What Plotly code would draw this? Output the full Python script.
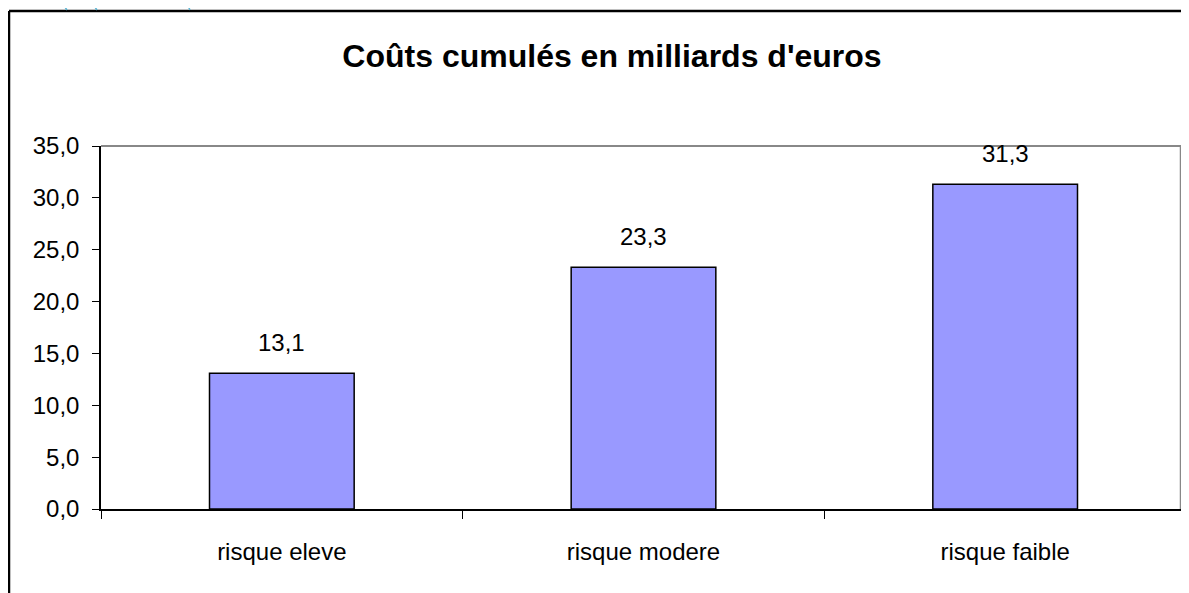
import plotly.graph_objects as go

categories = ["risque eleve", "risque modere", "risque faible"]
values = [13.1, 23.3, 31.3]
title_text = "Coûts cumulés en milliards d'euros"

# page body has an 8px default margin; compensate so the picture lands where intended
O = 8
W, H = 1189, 593
L, R, T, B = 101, 3, 146, 84
FW, FH = W - O, H - O
PW, PH = W - L - R, H - T - B
RIGHT_EDGE = 1181  # visible right edge of the plot frame


def px(x):
    return (x - L) / PW


def py(y):
    return (H - B - y) / PH


FONT = "Liberation Sans, Arial, sans-serif"

fig = go.Figure()
fig.add_trace(go.Bar(
    x=categories, y=values, width=0.4,
    marker=dict(color="#9999FF", line=dict(color="black", width=1.5)),
    hoverinfo="skip",
))

for c, v in zip(categories, values):
    fig.add_annotation(x=c, y=v, text=f"{v:.1f}".replace(".", ","),
                       showarrow=False, yanchor="middle", yshift=31,
                       font=dict(family=FONT, size=24, color="black"))

shapes = []
# plot area border top / right (gray)
shapes.append(dict(type="line", xref="paper", yref="paper", x0=0, x1=px(RIGHT_EDGE), y0=1, y1=1,
                   line=dict(color="#888888", width=2)))
shapes.append(dict(type="line", xref="paper", yref="paper", x0=px(RIGHT_EDGE), x1=px(RIGHT_EDGE), y0=0, y1=1,
                   line=dict(color="#888888", width=2.5)))
# outer chart border (black)
shapes.append(dict(type="line", xref="paper", yref="paper", x0=px(9), x1=px(W + 5), y0=py(11), y1=py(11),
                   line=dict(color="black", width=2.5)))
shapes.append(dict(type="line", xref="paper", yref="paper", x0=px(9), x1=px(9), y0=py(11), y1=py(H + 5),
                   line=dict(color="black", width=2.5)))
# light blue decorative strokes at the top
for x0, x1 in [(60, 67), (90, 97), (185, 190)]:
    shapes.append(dict(type="line", xref="paper", yref="paper", x0=px(x0), x1=px(x1), y0=py(0), y1=py(10),
                       line=dict(color="#5AB4D2", width=1.5)))

fig.update_layout(
    width=FW, height=FH,
    margin=dict(l=L - O, r=R, t=T - O, b=B, pad=0),
    paper_bgcolor="white", plot_bgcolor="white",
    separators=", ",
    showlegend=False,
    font=dict(family=FONT, size=24, color="black"),
    title=dict(text="<b>" + title_text + "</b>", xref="container", yref="container",
               x=(612 - O) / FW, xanchor="center", y=1 - (56 - O) / FH, yanchor="middle",
               font=dict(family=FONT, size=32, color="black")),
    shapes=shapes,
    bargap=0.6,
)
fig.update_xaxes(
    showline=True, linecolor="black", linewidth=1.5,
    ticks="outside", tickson="boundaries", ticklen=8, tickcolor="black", tickwidth=1.2,
    showgrid=False, ticklabelstandoff=20,
    tickfont=dict(family=FONT, size=24, color="black"),
    fixedrange=True,
)
fig.update_yaxes(
    range=[0, 35], dtick=5, tickformat=".1f",
    showline=True, linecolor="black", linewidth=1.5,
    ticks="outside", ticklen=7, tickcolor="black", tickwidth=1.2,
    showgrid=False, zeroline=False, ticklabelstandoff=8,
    tickfont=dict(family=FONT, size=24, color="black"),
    fixedrange=True,
)

fig.write_html("out.html")
